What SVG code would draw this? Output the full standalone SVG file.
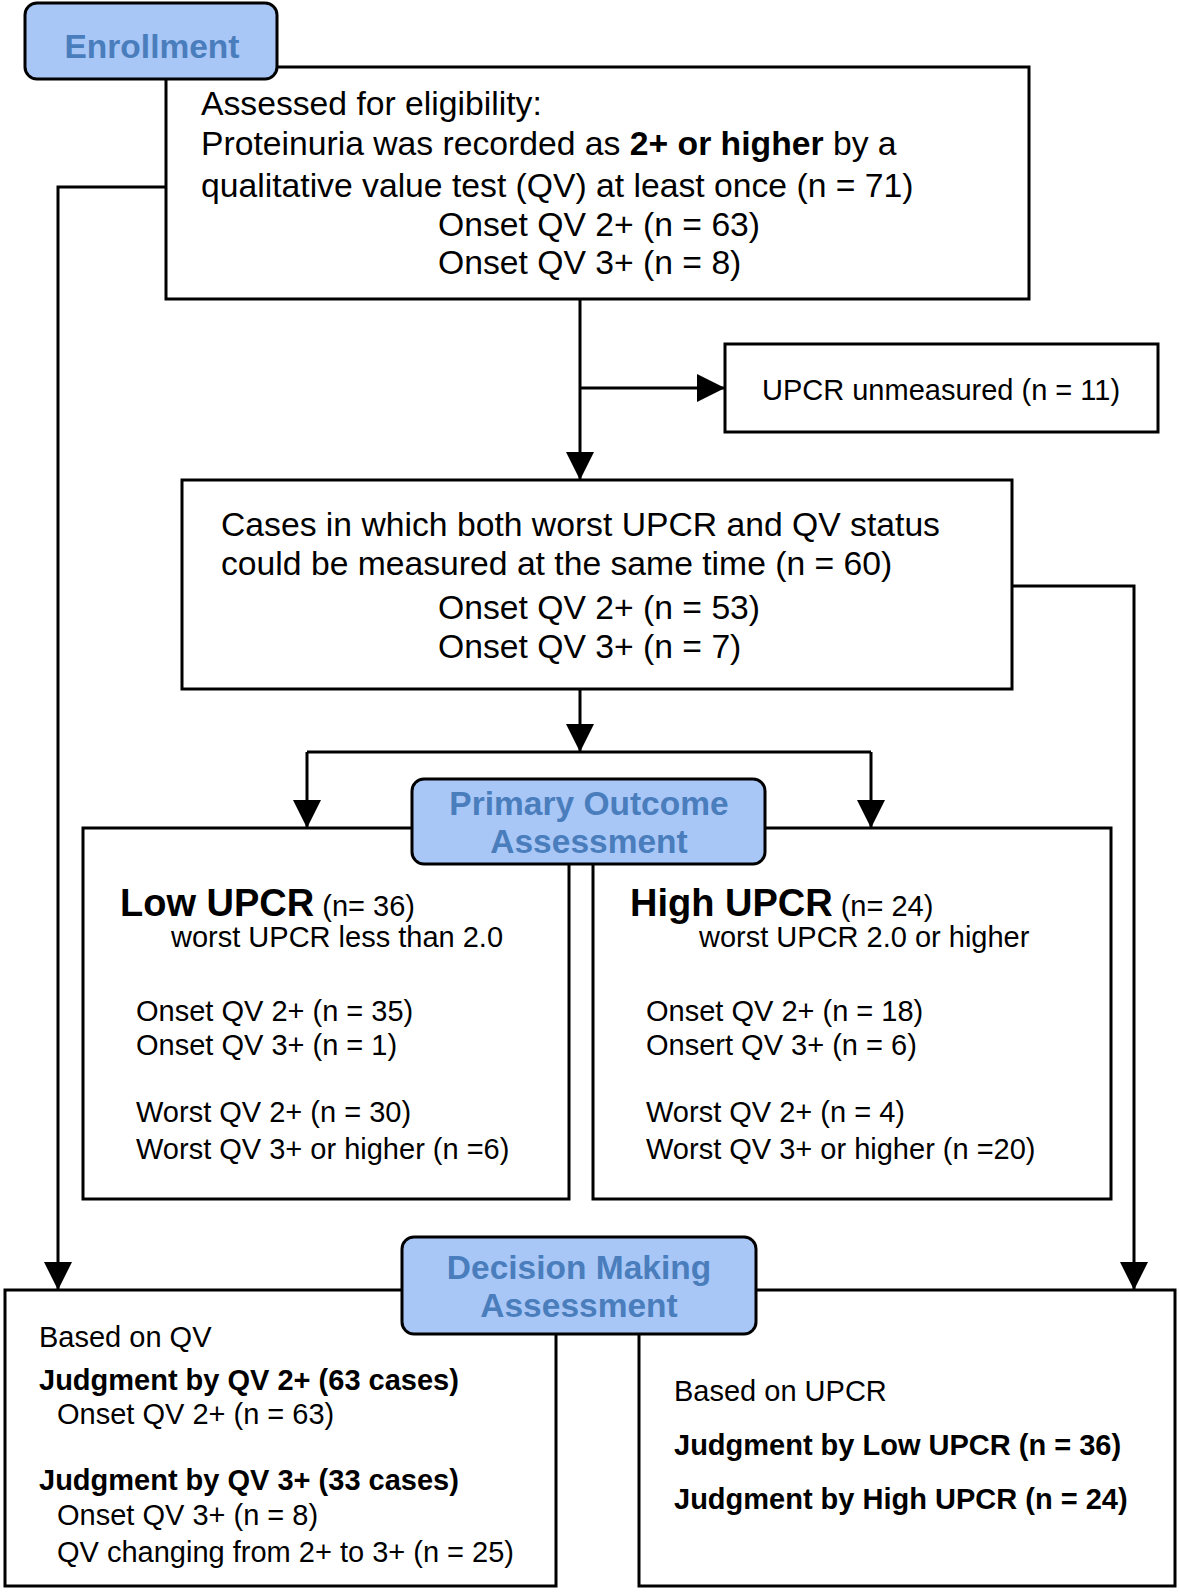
<svg xmlns="http://www.w3.org/2000/svg" width="1180" height="1592" viewBox="0 0 1180 1592">
<style>
.box{fill:#fff;stroke:#000;stroke-width:3}
.lbl{fill:#a8c7f7;stroke:#000;stroke-width:3}
.lt{font-family:"Liberation Sans",Arial,sans-serif;font-weight:bold;font-size:33.5px;fill:#4a7dbc;text-anchor:middle}
.t33{font-family:"Liberation Sans",Arial,sans-serif;font-size:33.7px;fill:#000}
.t29{font-family:"Liberation Sans",Arial,sans-serif;font-size:29px;fill:#000}
.b29{font-family:"Liberation Sans",Arial,sans-serif;font-size:29px;font-weight:bold;fill:#000}
.h38{font-family:"Liberation Sans",Arial,sans-serif;font-size:38px;font-weight:bold;fill:#000}
.c{fill:none;stroke:#000;stroke-width:3}
</style>
<defs>
<marker id="ah" viewBox="0 0 28 28" refX="28" refY="14" markerWidth="28" markerHeight="28" markerUnits="userSpaceOnUse" orient="auto">
<path d="M0,0 L28,14 L0,28 z" fill="#000"/>
</marker>
</defs>
<rect width="1180" height="1592" fill="#fff"/>

<g id="connectors">
<path class="c" d="M580,299 V480" marker-end="url(#ah)"/>
<path class="c" d="M580,388 H725" marker-end="url(#ah)"/>
<path class="c" d="M580,689 V752" marker-end="url(#ah)"/>
<path class="c" d="M307,752 H871"/>
<path class="c" d="M307,752 V828" marker-end="url(#ah)"/>
<path class="c" d="M871,752 V828" marker-end="url(#ah)"/>
<path class="c" d="M166,187 H58 V1290" marker-end="url(#ah)"/>
<path class="c" d="M1012,586 H1134 V1290" marker-end="url(#ah)"/>
</g>

<g id="assessed">
<rect class="box" x="166" y="67" width="863" height="232"/>
<text class="t33" x="201" y="115">Assessed for eligibility:</text>
<text class="t33" x="201" y="155">Proteinuria was recorded as <tspan font-weight="bold">2+ or higher</tspan> by a</text>
<text class="t33" x="201" y="197">qualitative value test (QV) at least once (n = 71)</text>
<text class="t33" x="438" y="236">Onset QV 2+ (n = 63)</text>
<text class="t33" x="438" y="274">Onset QV 3+ (n = 8)</text>
</g>

<g id="enrollment">
<rect class="lbl" x="25" y="3" width="252" height="76" rx="12"/>
<text class="lt" x="152" y="58">Enrollment</text>
</g>

<g id="unmeasured">
<rect class="box" x="725" y="344" width="433" height="88"/>
<text class="t29" x="762" y="400">UPCR unmeasured (n = 11)</text>
</g>

<g id="cases">
<rect class="box" x="182" y="480" width="830" height="209"/>
<text class="t33" x="221" y="536">Cases in which both worst UPCR and QV status</text>
<text class="t33" x="221" y="575">could be measured at the same time (n = 60)</text>
<text class="t33" x="438" y="619">Onset QV 2+ (n = 53)</text>
<text class="t33" x="438" y="658">Onset QV 3+ (n = 7)</text>
</g>

<g id="low">
<rect class="box" x="83" y="828" width="486" height="371"/>
<text x="120" y="916"><tspan class="h38">Low UPCR</tspan><tspan class="t29"> (n= 36)</tspan></text>
<text class="t29" x="171" y="947">worst UPCR less than 2.0</text>
<text class="t29" x="136" y="1021">Onset QV 2+ (n = 35)</text>
<text class="t29" x="136" y="1055">Onset QV 3+ (n = 1)</text>
<text class="t29" x="136" y="1122">Worst QV 2+ (n = 30)</text>
<text class="t29" x="136" y="1159">Worst QV 3+ or higher (n =6)</text>
</g>

<g id="high">
<rect class="box" x="593" y="828" width="518" height="371"/>
<text x="630" y="916"><tspan class="h38">High UPCR</tspan><tspan class="t29"> (n= 24)</tspan></text>
<text class="t29" x="699" y="947">worst UPCR 2.0 or higher</text>
<text class="t29" x="646" y="1021">Onset QV 2+ (n = 18)</text>
<text class="t29" x="646" y="1055">Onsert QV 3+ (n = 6)</text>
<text class="t29" x="646" y="1122">Worst QV 2+ (n = 4)</text>
<text class="t29" x="646" y="1159">Worst QV 3+ or higher (n =20)</text>
</g>

<g id="primary">
<rect class="lbl" x="412" y="779" width="353" height="85" rx="12"/>
<text class="lt" x="589" y="815">Primary Outcome</text>
<text class="lt" x="589" y="853">Assessment</text>
</g>

<g id="qv">
<rect class="box" x="5" y="1290" width="551" height="296"/>
<text class="t29" x="39" y="1347">Based on QV</text>
<text class="b29" x="39" y="1390">Judgment by QV 2+ (63 cases)</text>
<text class="t29" x="57" y="1424">Onset QV 2+ (n = 63)</text>
<text class="b29" x="39" y="1490">Judgment by QV 3+ (33 cases)</text>
<text class="t29" x="57" y="1525">Onset QV 3+ (n = 8)</text>
<text class="t29" x="57" y="1562">QV changing from 2+ to 3+ (n = 25)</text>
</g>

<g id="upcr">
<rect class="box" x="639" y="1290" width="536" height="296"/>
<text class="t29" x="674" y="1401">Based on UPCR</text>
<text class="b29" x="674" y="1455">Judgment by Low UPCR (n = 36)</text>
<text class="b29" x="674" y="1509">Judgment by High UPCR (n = 24)</text>
</g>

<g id="decision">
<rect class="lbl" x="402" y="1237" width="354" height="97" rx="12"/>
<text class="lt" x="579" y="1279">Decision Making</text>
<text class="lt" x="579" y="1317">Assessment</text>
</g>
</svg>
